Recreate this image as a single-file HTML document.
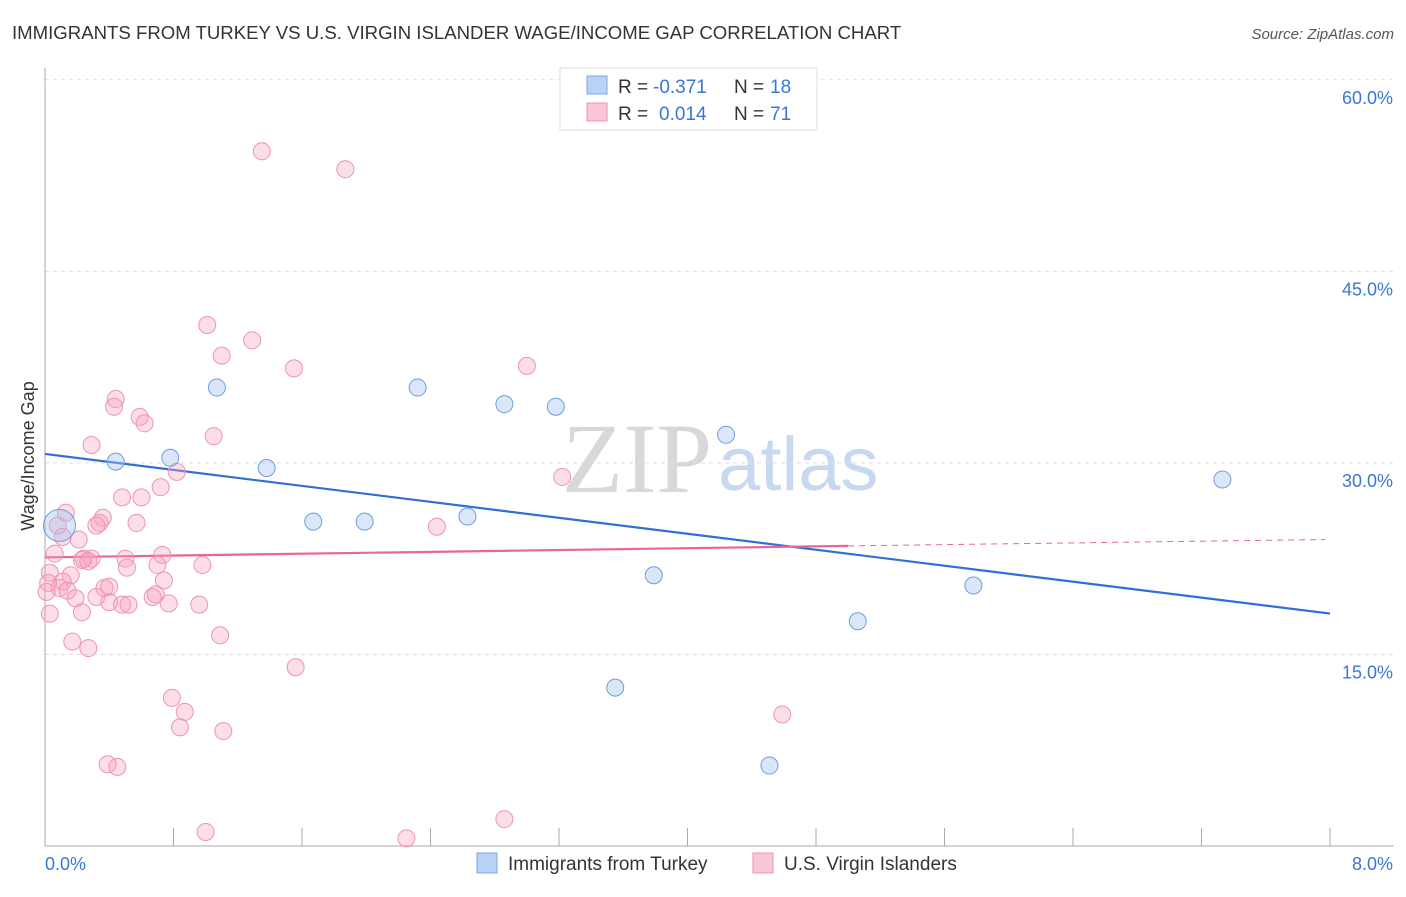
<!DOCTYPE html>
<html><head><meta charset="utf-8"><style>
body{margin:0;background:#fff;font-family:"Liberation Sans",sans-serif;}
</style></head><body>
<svg id="chart" width="1406" height="892" xmlns="http://www.w3.org/2000/svg">
<text x="12" y="39" font-size="18.6" fill="#333">IMMIGRANTS FROM TURKEY VS U.S. VIRGIN ISLANDER WAGE/INCOME GAP CORRELATION CHART</text>
<text x="1394" y="39" font-size="15" fill="#555" text-anchor="end" font-style="italic">Source: ZipAtlas.com</text>
<text x="712" y="492" font-size="100" fill="#d8d8d8" text-anchor="end" font-family="Liberation Serif,serif">ZIP</text>
<text x="718" y="490" font-size="76" fill="#c8d8f0">atlas</text>
<g id="grid"></g><g id="axes"></g><g id="lines"></g><g id="pts"></g>
<text transform="translate(34,456) rotate(-90)" font-size="18" fill="#333" text-anchor="middle">Wage/Income Gap</text>
<g>
<rect x="560" y="68" width="257" height="62" fill="#fff" stroke="#ddd"/>
<rect x="587" y="76" width="20" height="18" fill="#b8d3f5" stroke="#7aa7e0"/>
<rect x="587" y="103" width="20" height="18" fill="#f9c6d6" stroke="#ee94b2"/>
<text x="618" y="93" font-size="19" fill="#333">R =</text>
<text x="653" y="93" font-size="19" fill="#3a76d6">-0.371</text>
<text x="734" y="93" font-size="19" fill="#333">N =</text>
<text x="770" y="93" font-size="19" fill="#3a76d6">18</text>
<text x="618" y="120" font-size="19" fill="#333">R =</text>
<text x="659" y="120" font-size="19" fill="#3a76d6">0.014</text>
<text x="734" y="120" font-size="19" fill="#333">N =</text>
<text x="770" y="120" font-size="19" fill="#3a76d6">71</text>
</g>
<g>
<rect x="477" y="853" width="20" height="20" fill="#b8d3f5" stroke="#7aa7e0"/>
<text x="508" y="870" font-size="19" fill="#333">Immigrants from Turkey</text>
<rect x="753" y="853" width="20" height="20" fill="#f9c6d6" stroke="#ee94b2"/>
<text x="784" y="870" font-size="19" fill="#333">U.S. Virgin Islanders</text>
</g>
</svg>
<script>
const yTicks=[15,30,45,60];
const xTickLabels=["0.0%","8.0%"];
const blueX=[0.09,0.44,0.78,1.07,1.38,1.67,1.99,2.32,2.63,2.86,3.18,3.55,3.79,4.24,4.51,5.06,5.78,7.33];
const blueY=[25.1,30.1,30.4,35.9,29.6,25.4,25.4,35.9,25.8,34.6,34.4,12.4,21.2,32.2,6.3,17.6,20.4,28.7];
const pinkX=[1.35,1.87,1.01,1.29,1.10,1.55,3.00,0.44,0.43,0.59,0.62,0.29,1.05,0.82,0.72,0.48,0.60,0.13,0.36,0.34,0.08,0.57,0.32,0.11,0.21,2.44,3.22,0.06,0.24,0.23,0.29,0.50,0.73,0.27,0.51,0.70,0.98,0.03,0.16,0.02,0.11,0.09,0.37,0.40,0.74,0.01,0.14,0.19,0.32,0.40,0.48,0.52,0.67,0.69,0.77,0.96,0.03,0.23,0.17,0.27,1.09,1.56,0.79,0.87,0.84,1.11,4.59,0.39,0.45,1.00,2.25,2.86];
const pinkY=[54.4,53.0,40.8,39.6,38.4,37.4,37.6,35.0,34.4,33.6,33.1,31.4,32.1,29.3,28.1,27.3,27.3,26.1,25.7,25.3,25.1,25.3,25.1,24.2,24.0,25.0,28.9,22.9,22.5,22.4,22.5,22.5,22.8,22.3,21.8,22.0,22.0,21.4,21.2,20.6,20.7,20.2,20.2,20.3,20.8,19.9,20.0,19.4,19.5,19.1,18.9,18.9,19.5,19.7,19.0,18.9,18.2,18.3,16.0,15.5,16.5,14.0,11.6,10.5,9.3,9.0,10.3,6.4,6.2,1.1,0.6,2.1];
const blueFit=[30.7,18.2]; const pinkFit=[22.6,23.5,24.0];
const NS='http://www.w3.org/2000/svg';
const X=v=>45+v/8*1285, Y=v=>846-v*12.77;
function mk(t,a,p){const e=document.createElementNS(NS,t);for(const k in a)e.setAttribute(k,a[k]);document.getElementById(p).appendChild(e);return e;}
yTicks.forEach(t=>{
 const l=mk('line',{x1:45,x2:1394,y1:Y(t),y2:Y(t),stroke:'#ddd','stroke-dasharray':'4,4'},'grid');
 
 
 const tx=mk('text',{x:1393,y:Y(t)+24,'font-size':18,fill:'#3a76d6','text-anchor':'end'},'grid');
 tx.textContent=t.toFixed(1)+'%';
 
 
});
let ax=mk('line',{x1:45,x2:45,y1:68,y2:846,stroke:'#aaa'},'axes');

ax=mk('line',{x1:45,x2:1394,y1:846,y2:846,stroke:'#aaa'},'axes');

for(let i=0;i<=10;i++){const t=mk('line',{x1:X(i*0.8),x2:X(i*0.8),y1:828,y2:846,stroke:'#aaa'},'axes');
 
 }
[[0,45,'start'],[8,1393,'end']].forEach((d,i)=>{const t=mk('text',{x:d[1],y:870,'font-size':18,fill:'#3a76d6','text-anchor':d[2]},'axes');t.textContent=xTickLabels[i];
 
 });
let ln=mk('line',{x1:X(0),y1:Y(blueFit[0]),x2:X(8),y2:Y(blueFit[1]),stroke:'#2f6fd6','stroke-width':2.2},'lines');

ln=mk('line',{x1:X(0),y1:Y(pinkFit[0]),x2:X(5.0),y2:Y(pinkFit[1]),stroke:'#e8669a','stroke-width':2.2},'lines');

ln=mk('line',{x1:X(5.0),y1:Y(pinkFit[1]),x2:X(7.97),y2:Y(pinkFit[2]),stroke:'#e8669a','stroke-width':1,'stroke-dasharray':'6,5'},'lines');

pinkX.forEach((v,i)=>{const c=mk('circle',{cx:X(v),cy:Y(pinkY[i]),r:8.5,fill:'rgba(245,160,190,0.35)',stroke:'#ee94b2','stroke-width':1},'pts');
 
 });
blueX.forEach((v,i)=>{const c=mk('circle',{cx:X(v),cy:Y(blueY[i]),r:i==0?16:8.5,fill:'rgba(160,195,240,0.4)',stroke:'#6d9ee0','stroke-width':1},'pts');
 
 });
</script>
</body></html>
